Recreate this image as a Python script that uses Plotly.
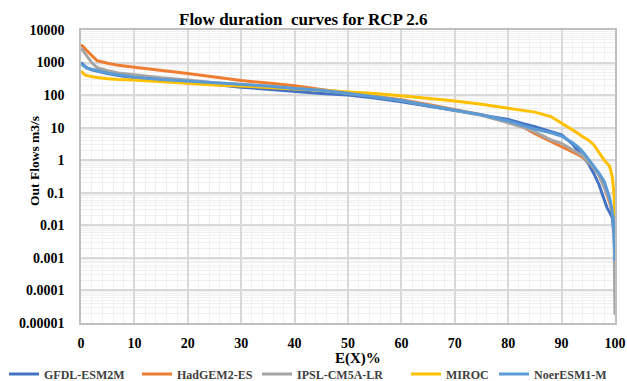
import plotly.graph_objects as go

# Exceedance probability (%)
exceedance = [0, 0.5, 1, 2, 3, 5, 7, 10, 15, 20, 25, 30, 35, 40, 45, 50, 55, 60, 65, 70,
              75, 80, 83, 85, 88, 90, 92, 93, 94, 95, 96, 97, 98, 98.5, 99, 99.5, 99.8, 100]

gfdl = [1000, 850, 700, 600, 540, 460, 400, 340, 290, 250, 210, 175, 150, 128, 112, 100, 82, 62, 46, 33,
        25, 18, 13, 10.7, 7.5, 6, 3.2, 2.0, 1.3, 0.8, 0.4, 0.18, 0.06, 0.035, 0.025, 0.017, 0.005, 0.0009]
hadgem = [3500, 3000, 2400, 1600, 1150, 950, 820, 720, 590, 460, 360, 280, 235, 195, 150, 118, 95, 72, 52, 37,
          25, 15, 10, 6.5, 3.8, 2.6, 1.8, 1.5, 1.2, 0.9, 0.6, 0.35, 0.15, 0.09, 0.05, 0.025, 0.015, 0.008]
ipsl = [2800, 2200, 1700, 1000, 700, 560, 480, 420, 340, 290, 240, 210, 185, 160, 140, 112, 90, 68, 48, 34,
        24, 14, 10, 7.4, 4.2, 3.3, 2.2, 1.7, 1.3, 0.9, 0.6, 0.35, 0.15, 0.1, 0.06, 0.03, 0.01, 0.000018]
miroc = [550, 450, 400, 370, 345, 320, 300, 290, 255, 225, 205, 190, 175, 155, 140, 128, 112, 95, 80, 66,
         52, 40, 34, 30, 22, 14, 9, 6.8, 5.2, 4.2, 3.0, 1.7, 1.0, 0.8, 0.65, 0.3, 0.1, 0.02]
noresm = [900, 800, 700, 620, 560, 480, 420, 355, 300, 270, 240, 215, 190, 160, 140, 115, 90, 68, 48, 35,
          25, 16, 11, 9, 7, 5.5, 3.5, 2.6, 1.8, 1.1, 0.65, 0.4, 0.22, 0.13, 0.07, 0.025, 0.01, 0.0008]

series_names = ["GFDL-ESM2M", "HadGEM2-ES", "IPSL-CM5A-LR", "MIROC", "NoerESM1-M"]
series_values = [gfdl, hadgem, ipsl, miroc, noresm]
series_colors = ["#4472C4", "#ED7D31", "#A5A5A5", "#FFC000", "#5B9BD5"]

y_tick_vals = [10000, 1000, 100, 10, 1, 0.1, 0.01, 0.001, 0.0001, 0.00001]
y_tick_text = ["10000", "1000", "100", "10", "1", "0.1", "0.01", "0.001", "0.0001", "0.00001"]
x_tick_vals = [0, 10, 20, 30, 40, 50, 60, 70, 80, 90, 100]

FONT = "Liberation Serif"

# legend entry starting positions (px) for each series
legend_px = [4, 137, 257, 406, 494]
legend_ids = ["legend", "legend2", "legend3", "legend4", "legend5"]

fig = go.Figure()
for name, vals, col, lid in zip(series_names, series_values, series_colors, legend_ids):
    fig.add_trace(go.Scatter(x=exceedance, y=vals, mode="lines", name=f"<b>{name}</b>",
                             line=dict(color=col, width=3), legend=lid))

minor_y = [k * 10.0 ** e for e in range(-5, 4) for k in range(2, 10)]

legend_cfg = {}
for lid, px in zip(legend_ids, legend_px):
    legend_cfg[lid] = dict(orientation="h", xref="container", yref="container",
                           x=px / 627, y=1 - 374 / 381, xanchor="left", yanchor="middle",
                           font=dict(family=FONT, size=12, color="#404040"),
                           itemwidth=30, bgcolor="rgba(0,0,0,0)", borderwidth=0)

fig.update_layout(
    width=627, height=381,
    margin=dict(l=81, r=12, t=30, b=58, autoexpand=False),
    paper_bgcolor="white", plot_bgcolor="white",
    font=dict(family=FONT, color="#000000"),
    showlegend=True,
    **legend_cfg,
    annotations=[
        dict(text="<b>Flow duration  curves for RCP 2.6</b>", xref="paper", yref="paper",
             x=(303 - 81) / 534, y=(323 - 20) / 293, xanchor="center", yanchor="middle", showarrow=False,
             font=dict(family=FONT, size=17, color="#000000")),
        dict(text="<b>Out Flows m3/s</b>", xref="paper", yref="paper",
             x=(34 - 81) / 534, y=(323 - 161) / 293, xanchor="center", yanchor="middle",
             textangle=-90, showarrow=False,
             font=dict(family=FONT, size=13.5, color="#000000")),
        dict(text="<b>E(X)%</b>", xref="paper", yref="paper",
             x=(358 - 81) / 534, y=(323 - 358) / 293, xanchor="center", yanchor="middle",
             showarrow=False, font=dict(family=FONT, size=15, color="#000000")),
    ],
)

fig.update_xaxes(range=[0, 100], tickvals=x_tick_vals,
                 ticktext=[f"<b>{v}</b>" for v in x_tick_vals],
                 tickfont=dict(family=FONT, size=14, color="#000000"),
                 showgrid=True, gridcolor="#d9d9d9", gridwidth=1.5,
                 minor=dict(dtick=2, showgrid=True, gridcolor="#f0f0f0", gridwidth=1),
                 showline=True, linecolor="#bfbfbf", linewidth=1.5, mirror=True,
                 zeroline=False, ticks="", ticklabelstandoff=6)

fig.update_yaxes(type="log", range=[-5, 4], tickvals=y_tick_vals,
                 ticktext=[f"<b>{t}</b>" for t in y_tick_text],
                 tickfont=dict(family=FONT, size=14, color="#000000"),
                 showgrid=True, gridcolor="#d9d9d9", gridwidth=1.5,
                 minor=dict(tickvals=minor_y, showgrid=True, gridcolor="#f0f0f0", gridwidth=1),
                 showline=True, linecolor="#bfbfbf", linewidth=1.5, mirror=True,
                 zeroline=False, ticks="", ticklabelstandoff=12)

fig.write_html("out.html", config={"displayModeBar": False},
               post_script="document.body.style.margin='0';")
